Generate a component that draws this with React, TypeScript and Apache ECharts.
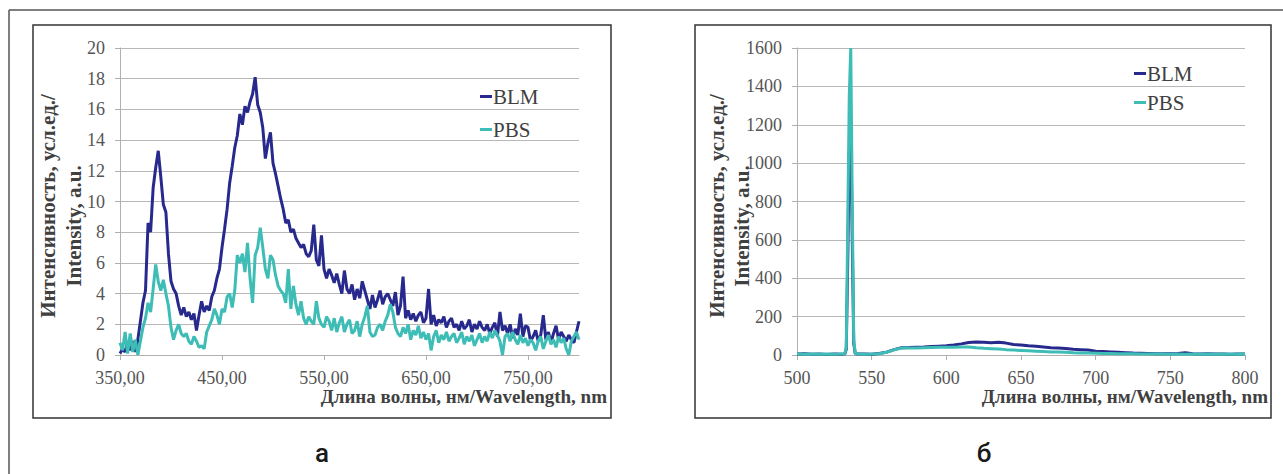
import React, { useEffect, useRef } from "react";
import * as echarts from "echarts";

// ---- Panel "а": 350–800 nm, sampled every 2.5 nm ----
const WL_A_START = 350;
const WL_A_STEP = 2.5;
const BLM_A = [
  0.1, 0.4, 0.2, 0.8, 0.3, 0.9, 0.2, 1.0, 2.2, 3.4,
  4.2, 8.6, 8.0, 10.9, 12.2, 13.3, 11.6, 9.8, 9.3, 6.6,
  4.8, 4.3, 4.0, 3.2, 2.6, 3.1, 2.5, 2.8, 2.3, 2.7,
  1.6, 2.6, 3.5, 2.8, 3.2, 2.9, 3.8, 4.2, 5.0, 5.6,
  7.0, 8.2, 9.5, 11.2, 12.3, 13.5, 14.3, 15.7, 15.0, 16.2,
  15.8, 16.5, 17.0, 18.1, 16.3, 15.8, 14.8, 12.8, 13.8, 14.5,
  12.5, 11.8, 11.0, 10.2, 9.5, 8.6, 8.8, 8.0, 8.2, 7.6,
  7.3, 7.0, 7.2, 6.6, 6.4, 6.8, 8.5, 6.2, 5.8, 7.8,
  5.6, 5.0, 5.6, 5.2, 4.7, 5.3, 4.6, 4.0, 5.5, 4.3,
  4.0, 4.6, 3.6, 4.3, 3.7, 4.8, 4.2, 3.6, 3.0, 3.9,
  3.1, 3.6, 4.2, 3.3, 3.8, 4.0, 3.6, 3.2, 4.1, 2.6,
  3.2, 5.1, 2.4, 2.9, 2.3, 2.7, 2.2, 2.6, 2.8, 2.1,
  2.4, 4.3, 2.0, 2.6, 1.9, 2.3, 2.1, 2.5, 1.8, 2.2,
  2.4, 1.8, 2.0, 1.6, 2.2, 1.7, 1.9, 2.3, 1.5, 2.0,
  1.7, 2.2, 1.8, 1.6, 2.0, 1.4, 1.8, 2.1, 1.2, 2.8,
  1.6, 1.9, 1.4, 2.0, 1.1, 1.7, 1.3, 2.7, 1.2, 1.9,
  1.8, 0.9, 1.2, 1.6, 0.9, 1.3, 2.6, 1.0, 1.5, 0.8,
  1.4, 1.9, 1.0, 1.5, 1.2, 0.9, 1.3, 1.0, 0.8, 1.5,
  2.2,
];
const PBS_A = [
  0.8, 0.3, 1.5, 0.1, 1.4, 0.2, 1.0, 0.0, 0.9, 1.8,
  2.4, 3.4, 2.8, 4.3, 5.9, 4.8, 4.2, 4.9, 4.0, 3.2,
  1.8, 1.0, 1.6, 2.0, 1.4, 1.2, 1.4, 0.9, 0.7, 1.2,
  0.9, 0.5, 0.6, 0.4, 1.5, 1.9, 2.3, 3.0, 2.6, 2.0,
  3.0, 2.8, 3.8, 4.0, 3.1, 4.2, 6.5, 6.0, 6.6, 5.4,
  7.3, 5.0, 3.4, 6.5, 7.0, 8.3, 7.0, 5.6, 5.0, 6.5,
  6.2, 5.2, 4.5, 4.2, 4.0, 3.4, 5.6, 3.0, 4.5, 3.3,
  2.6, 3.5, 2.4, 2.0, 2.5, 2.2, 2.0, 3.5, 2.4, 2.0,
  1.8, 2.5, 2.2, 1.6, 2.4, 1.5, 2.1, 2.5, 1.5, 2.0,
  2.3, 1.4, 1.6, 2.2, 1.2, 2.0, 2.5, 3.2, 1.5, 1.2,
  1.3, 1.8, 2.0, 1.6, 2.2, 2.6, 3.3, 2.8, 1.8, 1.4,
  1.2, 1.8, 1.4, 2.0, 1.0, 1.6, 1.3, 1.9, 1.1, 1.5,
  1.0, 1.4, 0.3, 1.2, 1.6, 0.8, 1.3, 1.0, 1.5, 0.9,
  1.2, 1.4, 0.8, 1.1, 1.5, 0.7, 1.2, 0.9, 1.3, 0.6,
  1.0, 1.4, 0.8, 1.2, 0.9, 1.5, 1.1, 1.6, 1.3, 0.9,
  0.0, 1.2, 1.4, 0.9, 1.5, 1.0, 0.7, 1.3, 0.8, 1.1,
  0.6, 1.0, 0.8, 0.3, 0.9, 1.2, 0.4, 0.9, 1.3, 0.7,
  1.0, 0.5, 1.2, 0.8, 1.1, 0.4, 0.0, 0.9, 1.2, 1.5,
  1.0,
];

// ---- Panel "б": 500–800 nm ----
const WL_B = [
  500, 505, 510, 515, 520, 525, 530, 532, 533, 534, 535, 536, 537, 538, 539, 540,
  545, 550, 555, 560, 565, 570, 575, 580, 585, 590, 595, 600, 605, 610, 615, 620,
  625, 630, 635, 640, 645, 650, 655, 660, 665, 670, 675, 680, 685, 690, 695, 700,
  705, 710, 715, 720, 725, 730, 735, 740, 745, 750, 755, 760, 765, 770, 775, 780,
  785, 790, 795, 800,
];
const BLM_B = [
  5, 6, 4, 5, 3, 5, 4, 5, 30, 500, 1050, 1200, 600, 60, 8, 5,
  5, 4, 8, 15, 28, 38, 39, 41, 42, 44, 46, 48, 52, 58, 65, 68,
  66, 64, 66, 62, 55, 52, 48, 46, 42, 38, 36, 34, 30, 28, 26, 20,
  18, 16, 14, 12, 10, 9, 8, 7, 6, 7, 8, 12, 6, 5, 6, 5,
  5, 4, 5, 5,
];
const PBS_B = [
  6, 4, 5, 4, 5, 4, 5, 5, 40, 700, 1350, 1600, 800, 80, 8, 5,
  4, 5, 7, 14, 27, 36, 36, 37, 38, 39, 40, 40, 41, 42, 42, 38,
  35, 33, 31, 28, 26, 24, 22, 20, 18, 16, 15, 14, 12, 11, 10, 9,
  8, 8, 7, 6, 6, 5, 5, 5, 5, 4, 5, 4, 5, 4, 5, 4,
  5, 4, 5, 4,
];

const SERIES_NAMES = ["BLM", "PBS"];
const COLORS = ["#272a8c", "#3dbdb5"];
const Y_TITLE_1 = "Интенсивность, усл.ед./";
const Y_TITLE_2 = "Intensity, a.u.";
const X_TITLE = "Длина волны, нм/Wavelength, nm";
const PANEL_LABELS = ["а", "б"];

const SERIF_NAME = "Liberation Serif";
const SERIF = '"Liberation Serif", serif';

export default function App() {
  const ref = useRef<HTMLDivElement>(null);

  useEffect(() => {
    if (!ref.current) return;
    const chart = echarts.init(ref.current, undefined, { renderer: "svg" });

    const dataA = (vals: number[]) => vals.map((v, i) => [WL_A_START + i * WL_A_STEP, v]);
    const dataB = (vals: number[]) => vals.map((v, i) => [WL_B[i], v]);

    const labelStyle = {
      color: "#555555",
      fontFamily: SERIF_NAME,
      fontSize: 18,
    };

    const axisX = (gridIndex: number, min: number, max: number, interval: number, fmt: (v: number) => string) => ({
      type: "value",
      gridIndex,
      min,
      max,
      interval,
      axisLine: { show: true, lineStyle: { color: "#b0b0b0", width: 1 } },
      axisTick: { show: true, length: 5, lineStyle: { color: "#b0b0b0" } },
      splitLine: { show: false },
      axisLabel: {
        ...labelStyle,
        margin: 14,
        showMaxLabel: gridIndex === 1,
        formatter: fmt,
      },
    });
    const axisY = (gridIndex: number, min: number, max: number, interval: number) => ({
      type: "value",
      gridIndex,
      min,
      max,
      interval,
      axisLine: { show: true, lineStyle: { color: "#b0b0b0", width: 1 } },
      axisTick: { show: true, length: 5, lineStyle: { color: "#b0b0b0" } },
      splitLine: { show: true, lineStyle: { color: "#b8b8b8", width: 1 } },
      axisLabel: { ...labelStyle, margin: 15, formatter: (v: number) => String(v) },
    });

    const lineSeries = (name: string, idx: number, data: number[][], axisIndex: number) => ({
      name,
      type: "line",
      xAxisIndex: axisIndex,
      yAxisIndex: axisIndex,
      data,
      showSymbol: false,
      symbol: "none",
      lineStyle: { color: COLORS[idx], width: 3 },
      itemStyle: { color: COLORS[idx] },
      z: 2 + idx,
    });

    const legendCommon = {
      orient: "vertical",
      icon: "rect",
      itemWidth: 12,
      itemHeight: 3,
      itemGap: 12,
      textStyle: { fontFamily: SERIF_NAME, fontSize: 21, color: "#404040", padding: [0, 0, 0, -4] },
      data: SERIES_NAMES,
      selectedMode: false,
    };

    const rotText = (text: string, x: number, y: number) => ({
      type: "text",
      x,
      y,
      rotation: Math.PI / 2,
      style: {
        text,
        font: `bold 21px ${SERIF}`,
        fill: "#404040",
        textAlign: "center",
        textVerticalAlign: "middle",
        align: "center",
        verticalAlign: "middle",
      },
    });
    const xTitle = (xRight: number) => ({
      type: "text",
      x: xRight,
      y: 396,
      style: {
        text: X_TITLE,
        font: `bold 19px ${SERIF}`,
        fill: "#404040",
        textAlign: "right",
        textVerticalAlign: "middle",
        align: "right",
        verticalAlign: "middle",
      },
    });
    const panelLabel = (x: number, text: string) => ({
      type: "text",
      x,
      y: 453,
      style: {
        text,
        font: `500 26px Roboto, "Noto Sans", sans-serif`,
        fill: "#1a1a1a",
        textAlign: "center",
        textVerticalAlign: "middle",
        align: "center",
        verticalAlign: "middle",
      },
    });

    chart.setOption({
      animation: false,
      backgroundColor: "#ffffff",
      textStyle: { fontFamily: SERIF_NAME },
      grid: [
        { left: 120, top: 48, width: 459, height: 307 },
        { left: 797, top: 48, width: 448, height: 307 },
      ],
      xAxis: [
        axisX(0, 350, 800, 100, (v: number) => v.toFixed(2).replace(".", ",")),
        axisX(1, 500, 800, 50, (v: number) => String(v)),
      ],
      yAxis: [axisY(0, 0, 20, 2), axisY(1, 0, 1600, 200)],
      legend: [
        { ...legendCommon, left: 475, top: 81 },
        { ...legendCommon, left: 1129, top: 58, itemGap: 8 },
      ],
      series: [
        lineSeries(SERIES_NAMES[0], 0, dataA(BLM_A), 0),
        lineSeries(SERIES_NAMES[1], 1, dataA(PBS_A), 0),
        lineSeries(SERIES_NAMES[0], 0, dataB(BLM_B), 1),
        lineSeries(SERIES_NAMES[1], 1, dataB(PBS_B), 1),
      ],
      graphic: [
        { type: "line", shape: { x1: 9, y1: 10, x2: 1283, y2: 10 }, style: { stroke: "#555", lineWidth: 1.5 } },
        { type: "line", shape: { x1: 9, y1: 10, x2: 9, y2: 474 }, style: { stroke: "#555", lineWidth: 1.5 } },
        { type: "rect", shape: { x: 33, y: 25, width: 578, height: 393 }, style: { fill: "none", stroke: "#333", lineWidth: 1.5 } },
        { type: "rect", shape: { x: 695, y: 25, width: 576, height: 393 }, style: { fill: "none", stroke: "#333", lineWidth: 1.5 } },
        rotText(Y_TITLE_1, 48, 206),
        rotText(Y_TITLE_2, 74, 226),
        rotText(Y_TITLE_1, 717, 206),
        rotText(Y_TITLE_2, 742, 226),
        xTitle(607),
        xTitle(1268),
        panelLabel(322, PANEL_LABELS[0]),
        panelLabel(984, PANEL_LABELS[1]),
      ],
    });

    return () => chart.dispose();
  }, []);

  return (
    <div
      ref={ref}
      style={{ position: "fixed", left: 0, top: 0, width: 1283, height: 474, background: "#fff" }}
    />
  );
}
